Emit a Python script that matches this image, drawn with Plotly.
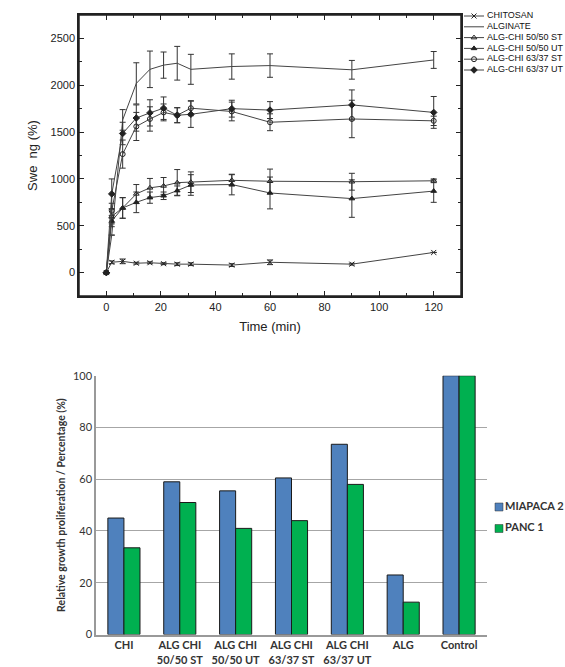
import plotly.graph_objects as go

# ---------------- Data: swelling vs time ----------------
time_min = [0, 2, 6, 11, 16, 21, 26, 31, 46, 60, 90, 120]

chitosan = [0, 110, 120, 100, 105, 95, 90, 90, 80, 110, 90, 215]
chitosan_err = [0, 15, 25, 10, 10, 10, 15, 15, 15, 25, 10, 0]

alginate = [0, 400, 1630, 2020, 2170, 2215, 2235, 2170, 2200, 2210, 2165, 2270]
alginate_err = [0, 0, 110, 220, 195, 140, 180, 160, 135, 125, 100, 90]

alg_chi_5050_st = [0, 600, 690, 840, 905, 925, 960, 965, 985, 975, 970, 980]
alg_chi_5050_st_err = [0, 80, 110, 100, 100, 90, 140, 110, 60, 130, 90, 20]

alg_chi_5050_ut = [0, 550, 690, 750, 800, 820, 875, 935, 940, 850, 790, 870]
alg_chi_5050_ut_err = [0, 60, 110, 110, 60, 40, 50, 110, 110, 170, 200, 120]

alg_chi_6337_st = [0, 660, 1265, 1560, 1640, 1710, 1680, 1755, 1720, 1605, 1640, 1620]
alg_chi_6337_st_err = [0, 80, 150, 150, 130, 90, 80, 80, 100, 90, 200, 50]

alg_chi_6337_ut = [0, 840, 1485, 1650, 1705, 1755, 1680, 1690, 1750, 1735, 1790, 1710]
alg_chi_6337_ut_err = [0, 160, 120, 140, 140, 120, 80, 140, 90, 90, 160, 170]

series_names = ["CHITOSAN", "ALGINATE", "ALG-CHI 50/50 ST", "ALG-CHI 50/50 UT",
                "ALG-CHI 63/37 ST", "ALG-CHI 63/37 UT"]
series_values = [chitosan, alginate, alg_chi_5050_st, alg_chi_5050_ut,
                 alg_chi_6337_st, alg_chi_6337_ut]
series_errors = [chitosan_err, alginate_err, alg_chi_5050_st_err, alg_chi_5050_ut_err,
                 alg_chi_6337_st_err, alg_chi_6337_ut_err]
series_symbols = ["x-thin", None, "triangle-up-open", "triangle-up",
                  "circle-open", "diamond"]

time_ticks = [0, 20, 40, 60, 80, 100, 120]
swelling_ticks = [0, 500, 1000, 1500, 2000, 2500]

# ---------------- Data: growth proliferation ----------------
categories = ["CHI", "ALG CHI<br>50/50 ST", "ALG CHI<br>50/50 UT", "ALG CHI<br>63/37 ST",
              "ALG CHI<br>63/37 UT", "ALG", "Control"]
miapaca2 = [45, 59, 55.5, 60.5, 73.5, 23, 100]
panc1 = [33.5, 51, 41, 44, 58, 12.5, 100]
bar_names = ["MIAPACA 2", "PANC 1"]
bar_colors = ["#4F81BD", "#00B050"]
growth_ticks = [0, 20, 40, 60, 80, 100]

W, H = 565, 667
LINE = "#444444"
INK = "#222222"

fig = go.Figure()

# ---- top chart traces ----
for name, vals, errs, sym in zip(series_names, series_values, series_errors, series_symbols):
    mode = "lines" if sym is None else "lines+markers"
    marker = dict(size=5, color=INK, line=dict(color=INK, width=1))
    if sym is not None:
        marker["symbol"] = sym
    fig.add_trace(go.Scatter(
        x=time_min, y=vals, name=name, mode=mode,
        line=dict(color=LINE, width=1),
        marker=marker,
        error_y=dict(type="data", array=errs, visible=True, color="#333333",
                     thickness=1, width=3),
        xaxis="x", yaxis="y", showlegend=False,
    ))

# empty trace so the mirrored tick axes (top / right) are drawn
fig.add_trace(go.Scatter(x=[], y=[], xaxis="x4", yaxis="y4", showlegend=False,
                         hoverinfo="skip"))

# ---- bottom chart bars ----
for name, vals, col in zip(bar_names, [miapaca2, panc1], bar_colors):
    fig.add_trace(go.Bar(
        x=categories, y=vals, name=name,
        marker=dict(color=col, line=dict(color="#1a1a1a", width=1)),
        xaxis="x2", yaxis="y2", showlegend=False))

# ---- compact legends drawn on a pixel-mapped helper axis pair (x3/y3) ----
leg_x0, leg_x1, leg_txt = 464, 484, 487
leg_y0, leg_dy = 16, 10.8
for i, (name, sym) in enumerate(zip(series_names, series_symbols)):
    yy = leg_y0 + leg_dy * i
    fig.add_trace(go.Scatter(
        x=[leg_x0, leg_x1], y=[yy, yy], mode="lines",
        line=dict(color=LINE, width=1), xaxis="x3", yaxis="y3",
        showlegend=False, hoverinfo="skip"))
    if sym is not None:
        fig.add_trace(go.Scatter(
            x=[(leg_x0 + leg_x1) / 2], y=[yy], mode="markers",
            marker=dict(symbol=sym, size=5, color=INK, line=dict(color=INK, width=1)),
            xaxis="x3", yaxis="y3", showlegend=False, hoverinfo="skip"))
fig.add_trace(go.Scatter(
    x=[leg_txt] * len(series_names),
    y=[leg_y0 + leg_dy * i for i in range(len(series_names))],
    text=series_names, mode="text", textposition="middle right",
    textfont=dict(family="Liberation Sans", size=9, color="#111111"),
    xaxis="x3", yaxis="y3", showlegend=False, hoverinfo="skip"))

bl_x, bl_y0, bl_dy = 499, 507, 21.5
for i, (name, col) in enumerate(zip(bar_names, bar_colors)):
    fig.add_trace(go.Scatter(
        x=[bl_x], y=[bl_y0 + bl_dy * i], mode="markers+text", text=[name],
        textposition="middle right",
        textfont=dict(family="Lato", size=11, color="#333333", weight="bold"),
        marker=dict(symbol="square", size=8, color=col, line=dict(color="#333333", width=0.5)),
        xaxis="x3", yaxis="y3", showlegend=False, hoverinfo="skip"))


def px_x(p):
    return p / W


def px_y(p):
    return 1 - p / H


axis_font = dict(family="Liberation Sans", size=11, color=INK)
top_x_dom = [px_x(79), px_x(461)]
top_y_dom = [px_y(296), px_y(15)]
time_range = [-10, 130]
swelling_range = [-250, 2750]

fig.update_layout(
    width=W, height=H,
    margin=dict(l=0, r=0, t=0, b=0, autoexpand=False),
    paper_bgcolor="white", plot_bgcolor="rgba(0,0,0,0)",
    showlegend=False,
    barmode="group", bargap=0.425, bargroupgap=0,
    xaxis=dict(
        domain=top_x_dom, range=time_range, anchor="y",
        tickvals=time_ticks, ticks="inside", ticklen=5,
        tickcolor=INK, tickwidth=1,
        minor=dict(dtick=10, ticks="inside", ticklen=3, tickcolor=INK),
        showline=True, linecolor=INK, linewidth=1.5, mirror=True,
        showgrid=False, zeroline=False, tickfont=axis_font,
        title=dict(text="Time (min)", font=dict(family="Liberation Sans", size=13, color=INK),
                   standoff=10),
    ),
    yaxis=dict(
        domain=top_y_dom, range=swelling_range, anchor="x",
        tickvals=swelling_ticks, ticks="inside", ticklen=5,
        tickcolor=INK, tickwidth=1,
        minor=dict(dtick=250, ticks="inside", ticklen=3, tickcolor=INK),
        showline=True, linecolor=INK, linewidth=1.5, mirror=True,
        showgrid=False, zeroline=False, tickfont=axis_font,
        title=dict(text="Swe  ng (%)", font=dict(family="Liberation Sans", size=13, color=INK),
                   standoff=10),
    ),
    xaxis4=dict(
        overlaying="x", side="top", anchor="y", range=time_range,
        tickvals=time_ticks, ticks="inside", ticklen=5, tickcolor=INK, tickwidth=1,
        minor=dict(dtick=10, ticks="inside", ticklen=3, tickcolor=INK),
        showticklabels=False, showline=True, linecolor=INK, linewidth=1.5,
        showgrid=False, zeroline=False, fixedrange=True,
    ),
    yaxis4=dict(
        overlaying="y", side="right", anchor="x", range=swelling_range,
        tickvals=swelling_ticks, ticks="inside", ticklen=5, tickcolor=INK, tickwidth=1,
        minor=dict(dtick=250, ticks="inside", ticklen=3, tickcolor=INK),
        showticklabels=False, showline=True, linecolor=INK, linewidth=1.5,
        showgrid=False, zeroline=False, fixedrange=True,
    ),
    xaxis2=dict(
        domain=[px_x(96), px_x(487)], anchor="y2", type="category",
        showline=True, linecolor="#999999", linewidth=1.5,
        ticks="", showgrid=False, zeroline=False,
        tickfont=dict(family="Lato", size=11, color="#333333", weight="bold"),
    ),
    yaxis2=dict(
        domain=[px_y(634.5), px_y(375.7)], range=[0, 100], anchor="x2",
        tickvals=growth_ticks, ticks="",
        showline=True, linecolor="#999999", linewidth=1.5,
        showgrid=True, gridcolor="#a6a6a6", gridwidth=1, zeroline=False,
        tickfont=dict(family="Lato", size=11, color="#333333"),
        title=dict(text="Relative growth proliferation / Percentage (%)",
                   font=dict(family="Lato", size=10.5, color="#333333", weight="bold"),
                   standoff=5),
    ),
    xaxis3=dict(domain=[0, 1], range=[0, W], visible=False, anchor="y3", fixedrange=True),
    yaxis3=dict(domain=[0, 1], range=[H, 0], visible=False, anchor="x3", fixedrange=True),
    shapes=[dict(type="rect", xref="x domain", yref="y domain", x0=0, x1=1, y0=0, y1=1,
                 line=dict(color=INK, width=1.5), fillcolor="rgba(0,0,0,0)", layer="above")],
)

fig.write_html("out.html")
